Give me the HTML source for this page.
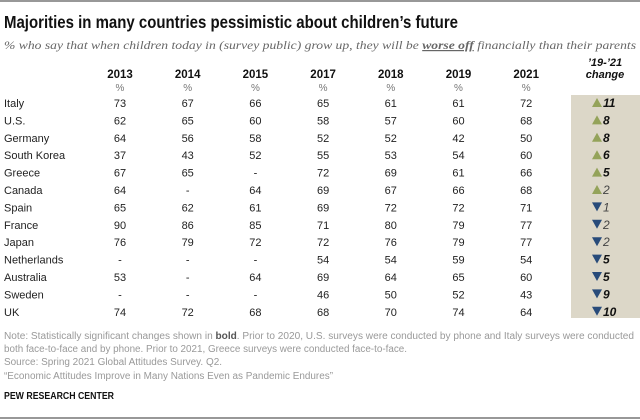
<!DOCTYPE html>
<html><head><meta charset="utf-8"><style>
html,body{margin:0;padding:0;background:#fff;}
svg{display:block;font-family:"Liberation Sans Narrow","Liberation Sans",sans-serif;}
</style></head><body>
<svg id="chart" width="640" height="420" viewBox="0 0 640 420">
<line x1="0" y1="1" x2="640" y2="1" stroke="#777" stroke-width="1.5"/>
<text x="4" y="28" font-family="Liberation Sans, sans-serif" font-weight="bold" font-size="17.5" fill="#111" textLength="454" lengthAdjust="spacingAndGlyphs">Majorities in many countries pessimistic about children’s future</text>
<text x="4" y="49" font-family="Liberation Serif, serif" font-style="italic" font-size="12" fill="#666" textLength="632" lengthAdjust="spacingAndGlyphs">% who say that when children today in (survey public) grow up, they will be <tspan font-weight="bold" text-decoration="underline">worse off</tspan> financially than their parents</text>
<rect x="571" y="95" width="69" height="223" fill="#dcd7c8"/>
<text x="605" y="66" text-anchor="middle" font-weight="bold" font-style="italic" font-size="11" fill="#111">’19-’21</text>
<text x="605" y="78" text-anchor="middle" font-weight="bold" font-style="italic" font-size="11" fill="#111">change</text>
<g id="rows"></g>
<g font-size="10" fill="#999">
<text x="4" y="339" textLength="630" lengthAdjust="spacingAndGlyphs">Note: Statistically significant changes shown in <tspan font-weight="bold" fill="#555">bold</tspan>. Prior to 2020, U.S. surveys were conducted by phone and Italy surveys were conducted</text>
<text x="4" y="352" textLength="403" lengthAdjust="spacingAndGlyphs">both face-to-face and by phone. Prior to 2021, Greece surveys were conducted face-to-face.</text>
<text x="4" y="365" textLength="218" lengthAdjust="spacingAndGlyphs">Source: Spring 2021 Global Attitudes Survey. Q2.</text>
<text x="4" y="379" textLength="329" lengthAdjust="spacingAndGlyphs">“Economic Attitudes Improve in Many Nations Even as Pandemic Endures”</text>
</g>
<text x="4" y="399" font-size="10" font-weight="bold" fill="#111" textLength="110" lengthAdjust="spacingAndGlyphs">PEW RESEARCH CENTER</text>
<line x1="0" y1="418" x2="640" y2="418" stroke="#777" stroke-width="1.5"/>
</svg>
<script>
const years = ["2013","2014","2015","2017","2018","2019","2021"];
const countries = ["Italy","U.S.","Germany","South Korea","Greece","Canada","Spain","France","Japan","Netherlands","Australia","Sweden","UK"];
const values = [
 [73,67,66,65,61,61,72],
 [62,65,60,58,57,60,68],
 [64,56,58,52,52,42,50],
 [37,43,52,55,53,54,60],
 [67,65,null,72,69,61,66],
 [64,null,64,69,67,66,68],
 [65,62,61,69,72,72,71],
 [90,86,85,71,80,79,77],
 [76,79,72,72,76,79,77],
 [null,null,null,54,54,59,54],
 [53,null,64,69,64,65,60],
 [null,null,null,46,50,52,43],
 [74,72,68,68,70,74,64]
];
const changes = [11,8,8,6,5,2,-1,-2,-2,-5,-5,-9,-10];
const significant = [true,true,true,true,true,false,false,false,false,true,true,true,true];

const svg = document.getElementById('chart');
const g = document.getElementById('rows');
const NS = "http://www.w3.org/2000/svg";
const colX = i => 120 + i*67.7;
const rowY = i => 107 + i*17.4;
function txt(x,y,s,attrs){
  const t = document.createElementNS(NS,'text');
  t.setAttribute('x',x); t.setAttribute('y',y);
  for(const k in attrs) t.setAttribute(k,attrs[k]);
  t.textContent = s; g.appendChild(t); return t;
}
years.forEach((yr,i)=>{
  const t = txt(colX(i),78,yr,{'text-anchor':'middle','font-weight':'bold','font-size':'11.5',fill:'#111'});
  
  
  const p = txt(colX(i),91,'%',{'text-anchor':'middle','font-size':'10',fill:'#777'});
  
  
});
countries.forEach((c,r)=>{
  const y = rowY(r);
  const l = txt(4,y,c,{'font-size':'11',fill:'#222'});
  
  
  values[r].forEach((v,i)=>{
    const t = txt(colX(i),y,v===null?'-':String(v),{'text-anchor':'middle','font-size':'11',fill:'#222'});
    
    
  });
  const ch = changes[r];
  const up = ch>0;
  const tri = document.createElementNS(NS,'path');
  const cx = 597, cy = y-4;
  tri.setAttribute('d', up ? `M${cx-5},${cy+4}L${cx+5},${cy+4}L${cx},${cy-5}Z` : `M${cx-5},${cy-5}L${cx+5},${cy-5}L${cx},${cy+4}Z`);
  tri.setAttribute('fill', up ? '#94a35a' : '#284b7a');
  
  
  g.appendChild(tri);
  const ct = txt(603,y,String(Math.abs(ch)),{'font-size':'12','font-style':'italic','font-weight':significant[r]?'bold':'normal',fill:significant[r]?'#111':'#444'});
  
  
});
</script>
</body></html>
